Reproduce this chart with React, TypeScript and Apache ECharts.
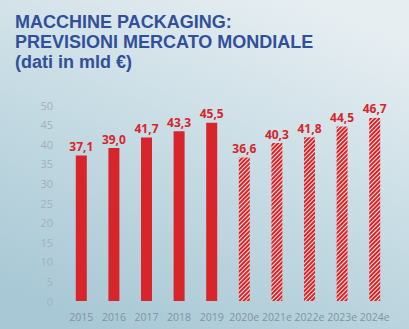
import React, { useEffect, useRef } from "react";
import * as echarts from "echarts";

const categories = ["2015", "2016", "2017", "2018", "2019", "2020e", "2021e", "2022e", "2023e", "2024e"];
const values = [37.1, 39.0, 41.7, 43.3, 45.5, 36.6, 40.3, 41.8, 44.5, 46.7];
const forecast = [false, false, false, false, false, true, true, true, true, true];
const titleLines = ["MACCHINE PACKAGING:", "PREVISIONI MERCATO MONDIALE", "(dati in mld €)"];

const RED = "#d8242b";

export default function App() {
  const ref = useRef<HTMLDivElement>(null);
  useEffect(() => {
    if (!ref.current) return;
    const chart = echarts.init(ref.current, undefined, { renderer: "svg" });
    const data = values.map((v, i) =>
      forecast[i]
        ? {
            value: v,
            itemStyle: {
              color: "#fbe4e0",
              decal: {
                symbol: "rect",
                symbolSize: 1,
                color: RED,
                dashArrayX: [1, 0],
                dashArrayY: [1.3, 1],
                rotation: -Math.PI / 4,
              },
            },
          }
        : { value: v, itemStyle: { color: RED } }
    );
    chart.setOption({
      animation: false,
      backgroundColor: new echarts.graphic.LinearGradient(0.75, 0, 0.25, 1, [
        { offset: 0, color: "#e7eef2" },
        { offset: 0.45, color: "#c9dde5" },
        { offset: 1, color: "#a8c8d5" },
      ]),
      graphic: titleLines.map((t, i) => ({
        type: "text",
        left: 15,
        top: 13 + i * 20,
        style: {
          text: t,
          fill: "#30509b",
          font: "bold 18px 'Liberation Sans', Arial, sans-serif",
        },
      })),
      grid: { left: 65, right: 18, top: 105, bottom: 28 },
      xAxis: {
        type: "category",
        data: categories,
        axisLine: { show: false },
        axisTick: { show: false },
        axisLabel: {
          interval: 0,
          color: "#84939b",
          fontSize: 10.5,
          margin: 10,
          fontFamily: "'Open Sans', sans-serif",
        },
      },
      yAxis: {
        type: "value",
        min: 0,
        max: 50,
        interval: 5,
        axisLine: { show: false },
        axisTick: { show: false },
        splitLine: { show: false },
        axisLabel: {
          color: "#a3b0b6",
          fontSize: 11,
          margin: 12,
          fontFamily: "'Open Sans', sans-serif",
        },
      },
      series: [
        {
          type: "bar",
          barWidth: 11,
          data,
          label: {
            show: true,
            position: "top",
            distance: 3,
            color: RED,
            fontWeight: "bold",
            fontSize: 12,
            fontFamily: "'Open Sans', sans-serif",
            formatter: (p: any) => p.value.toFixed(1).replace(".", ","),
          },
        },
      ],
    });
    return () => chart.dispose();
  }, []);
  return (
    <div
      ref={ref}
      style={{ position: "fixed", left: 0, top: 0, width: 409, height: 329 }}
    />
  );
}
